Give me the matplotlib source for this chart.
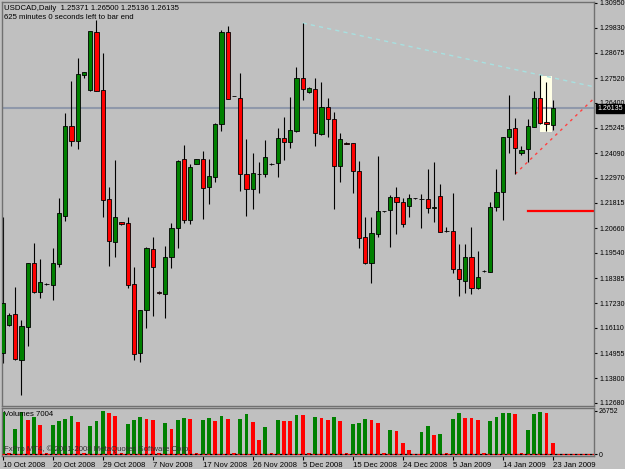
import matplotlib
matplotlib.use('Agg')
import matplotlib.pyplot as plt
import matplotlib.transforms as mtrans
from matplotlib.patches import Rectangle

# ---------------- data ----------------
opens = [1.14964, 1.16243, 1.16745, 1.14644, 1.16151, 1.19075, 1.17750, 1.18115, 1.18070, 1.19029,
         1.21221, 1.25332, 1.24647, 1.27661, 1.26976, 1.29625, 1.26976, 1.21998, 1.20034, 1.20947,
         1.20902, 1.18115, 1.14964, 1.16928, 1.19714, 1.17750, 1.17659, 1.19349, 1.20673, 1.23825,
         1.21039, 1.23596, 1.23825, 1.22546, 1.23003, 1.25423, 1.29625, 1.26702, 1.26611, 1.23140,
         1.22454, 1.23140, 1.23140, 1.23596, 1.23642, 1.24784, 1.24601, 1.25104, 1.27524, 1.26885,
         1.27022, 1.24967, 1.26200, 1.25652, 1.23505, 1.24556, 1.24556, 1.23277, 1.20262, 1.19075,
         1.20399, 1.21450, 1.21495, 1.22089, 1.21861, 1.21678, 1.22043, 1.21998, 1.21998, 1.21587,
         1.22135, 1.20536, 1.20536, 1.18800, 1.18252, 1.19349, 1.17933, 1.18709, 1.18663, 1.21632,
         1.22317, 1.24830, 1.25241, 1.24099, 1.24281, 1.25286, 1.26611, 1.25515, 1.25371]
highs = [1.21176, 1.16791, 1.17978, 1.16471, 1.19075, 1.19988, 1.19257, 1.18161, 1.19760, 1.22043,
         1.25926, 1.27387, 1.28438, 1.27798, 1.29671, 1.30174, 1.28666, 1.22546, 1.23779, 1.20947,
         1.21176, 1.18892, 1.16928, 1.19805, 1.20262, 1.17796, 1.19851, 1.20902, 1.23779, 1.24464,
         1.23596, 1.23825, 1.24190, 1.23825, 1.25469, 1.29717, 1.29899, 1.26702, 1.27753, 1.24738,
         1.24099, 1.23688, 1.24693, 1.23642, 1.25241, 1.25743, 1.26657, 1.28027, 1.30037, 1.27113,
         1.27524, 1.27342, 1.26611, 1.25971, 1.25012, 1.24601, 1.24556, 1.23733, 1.21176, 1.21176,
         1.23962, 1.21450, 1.22180, 1.22546, 1.22043, 1.22226, 1.22043, 1.22226, 1.23368, 1.23688,
         1.22683, 1.20719, 1.22272, 1.19942, 1.19942, 1.20719, 1.19623, 1.18755, 1.21861, 1.23368,
         1.24830, 1.26748, 1.25697, 1.24418, 1.25652, 1.26931, 1.27661, 1.27342, 1.26500]
lows = [1.14507, 1.16197, 1.14644, 1.13045, 1.15283, 1.17704, 1.17476, 1.18070, 1.17385, 1.18892,
        1.20993, 1.24418, 1.24281, 1.27524, 1.26931, 1.26931, 1.21176, 1.18937, 1.19349, 1.20810,
        1.17933, 1.14644, 1.14553, 1.16106, 1.16654, 1.17659, 1.16562, 1.18846, 1.19760, 1.20902,
        1.20856, 1.23596, 1.21084, 1.21769, 1.22774, 1.25104, 1.26565, 1.26702, 1.22363, 1.21221,
        1.21541, 1.22272, 1.23003, 1.23551, 1.23003, 1.23779, 1.24327, 1.25058, 1.26520, 1.26839,
        1.24418, 1.24921, 1.24830, 1.21541, 1.22774, 1.24510, 1.22272, 1.19760, 1.19029, 1.18161,
        1.20262, 1.21404, 1.19805, 1.20399, 1.20719, 1.21176, 1.21998, 1.20673, 1.21358, 1.20947,
        1.20490, 1.20490, 1.18618, 1.17567, 1.17704, 1.17659, 1.17887, 1.18663, 1.18663, 1.21450,
        1.21039, 1.24099, 1.23140, 1.24007, 1.23688, 1.25286, 1.25423, 1.25104, 1.25136]
closes = [1.17248, 1.16699, 1.14690, 1.16197, 1.19075, 1.17750, 1.18207, 1.18115, 1.19075, 1.21358,
          1.25332, 1.24647, 1.27707, 1.27798, 1.29671, 1.26931, 1.21952, 1.20079, 1.21176, 1.20856,
          1.18070, 1.14918, 1.16928, 1.19760, 1.18892, 1.17704, 1.19349, 1.20673, 1.23733, 1.21039,
          1.23459, 1.23825, 1.22500, 1.23048, 1.25423, 1.29625, 1.26565, 1.26702, 1.23140, 1.22454,
          1.23185, 1.23120, 1.23916, 1.23596, 1.24784, 1.24601, 1.25149, 1.27524, 1.27022, 1.27068,
          1.25012, 1.26200, 1.25652, 1.23505, 1.24738, 1.24510, 1.23277, 1.20216, 1.19075, 1.20445,
          1.21450, 1.21450, 1.22089, 1.21861, 1.20856, 1.22043, 1.22043, 1.21990, 1.21587, 1.21632,
          1.20490, 1.20536, 1.18800, 1.18344, 1.19349, 1.17933, 1.18435, 1.18709, 1.21632, 1.22317,
          1.24830, 1.25195, 1.24327, 1.24236, 1.25332, 1.26611, 1.25469, 1.25423, 1.26135]
volumes = [25935, 400, 15316, 26343, 20830, 22872, 17766, 350, 17766, 20216,
           21850, 23483, 19808, 450, 17153, 20216, 26752, 25322, 23892, 420,
           18787, 20830, 23280, 21850, 21238, 380, 19400, 15316, 20830, 22463,
           21442, 410, 20830, 22463, 20216, 23892, 21850, 390, 21850, 24913,
           19808, 8577, 16745, 360, 20830, 20420, 20216, 24505, 24096, 440,
           22871, 22258, 20830, 22871, 20216, 400, 18787, 19195, 21850, 20830,
           19195, 350, 14703, 14500, 7147, 2450, 300, 13681, 17153, 11640,
           12660, 420, 21850, 25322, 22463, 22300, 20830, 380, 20420, 22871,
           25322, 25400, 24913, 400, 15111, 24913, 25935, 25525, 7004]

date_tick_bars = [0, 8, 16, 24, 32, 40, 48, 56, 64, 72, 80, 88]
date_labels = ["10 Oct 2008", "20 Oct 2008", "29 Oct 2008", "7 Nov 2008", "17 Nov 2008",
               "26 Nov 2008", "5 Dec 2008", "15 Dec 2008", "24 Dec 2008", "5 Jan 2009",
               "14 Jan 2009", "23 Jan 2009"]
price_ticks = [1.30950, 1.29830, 1.28675, 1.27520, 1.26400, 1.25245, 1.24090, 1.22970, 1.21815,
               1.20660, 1.19540, 1.18385, 1.17230, 1.16110, 1.14955, 1.13800, 1.12680]
price_labels = ["%.5f" % p for p in price_ticks]

symbol = "USDCAD,Daily"
bid = 1.26135
level_line = 1.21450
vol_max = 26752

# ---------------- figure ----------------
BG = '#c0c0c0'
GREEN = '#008000'
RED = '#ff0000'
FONT = 'Liberation Sans'
FS = 5.6
FSY = 5.0

plt.rcParams['font.family'] = [FONT, 'DejaVu Sans']

fig = plt.figure(figsize=(6.25, 4.69), dpi=100, facecolor=BG)
W, H = 625, 469
ax = fig.add_axes([2 / W, (H - 406) / H, 592 / W, 404 / H], facecolor=BG)
axv = fig.add_axes([2 / W, (H - 456) / H, 592 / W, 48 / H], facecolor=BG)

n = len(opens)
xs = list(range(n))
xmin, xmax = -0.112, 94.61

# highlight box around last bars
ax.add_patch(Rectangle((85.9, 1.2508), 2.0, 0.0253, facecolor='#ffffe6', edgecolor='none', zorder=0.5))

# bid line
ax.axhline(bid, color='#8f98aa', lw=1.5, zorder=1)

# candles
for i in xs:
    o, h, l, c = opens[i], highs[i], lows[i], closes[i]
    ax.vlines(i, l, h, color='black', lw=0.8, zorder=2)
    if c > o:
        col = GREEN
    elif c < o:
        col = RED
    else:
        col = 'black'
    bot = min(o, c)
    hgt = max(abs(c - o), 0.00012)
    ax.bar(i, hgt, bottom=bot, width=0.66, color=col, edgecolor='black', linewidth=0.6, zorder=3)

# trend lines
s1 = (highs[86] - highs[48]) / (86 - 48)
ax.plot([48, xmax], [highs[48], highs[48] + s1 * (xmax - 48)], color='#a8e0e0', lw=1.0,
        ls=(0, (3, 3)), zorder=1.5)
s2 = (lows[84] - lows[82]) / (84 - 82)
ax.plot([82, xmax], [lows[82], lows[82] + s2 * (xmax - 82)], color='#ff4040', lw=1.0,
        ls=(0, (2, 3)), zorder=1.5)
ax.plot([84, xmax], [level_line, level_line], color='#ff0000', lw=1.6, zorder=1.5)

ax.set_xlim(xmin, xmax)
ax.set_ylim(1.31087 - 0.00045675 * 406, 1.31087 - 0.00045675 * 2)
ax.yaxis.tick_right()
ax.set_yticks(price_ticks)
ax.set_yticklabels(price_labels)
ax.tick_params(axis='y', direction='out', length=2.5, width=0.8, colors='black', labelsize=FSY, pad=1.2)
ax.set_xticks([])
for sp in ax.spines.values():
    sp.set_color('#707070')
    sp.set_linewidth(1.0)

# current price label
tr = mtrans.blended_transform_factory(ax.transAxes, ax.transData)
ax.text(1.0055, bid, "%.5f" % bid, transform=tr, fontsize=FSY, color='white',
        va='center', ha='left', zorder=10, clip_on=False,
        bbox=dict(boxstyle='square,pad=0.12', facecolor='black', edgecolor='black'))

# header texts
fig.text(4 / W, 1 - 8 / H, "%s  %.5f %.5f %.5f %.5f" % (symbol, opens[-1], highs[-1], lows[-1], closes[-1]),
         fontsize=FS, color='black', va='center', ha='left')
fig.text(4 / W, 1 - 17.5 / H, "625 minutes 0 seconds left to bar end",
         fontsize=FS, color='black', va='center', ha='left')

# ---------------- volume panel ----------------
vcols = []
for i, v in enumerate(volumes):
    if i == 0 or v > volumes[i - 1]:
        vcols.append(GREEN)
    else:
        vcols.append(RED)
axv.bar(xs, volumes, width=0.58, color=vcols, edgecolor='none', zorder=2)
axv.axhline(0, color='#ff0000', lw=0.9, ls=(0, (2, 2)), zorder=3)
axv.axhline(0, color='black', lw=0.9, ls=(2, (2, 2)), zorder=3)
axv.set_xlim(xmin, xmax)
axv.set_ylim(-vol_max * 2 / 44, vol_max * 47 / 44)
axv.yaxis.tick_right()
axv.set_yticks([0, vol_max])
axv.set_yticklabels(['0', str(vol_max)])
axv.tick_params(axis='y', direction='out', length=2, width=0.8, labelsize=FSY, pad=1.2)
axv.set_xticks(date_tick_bars)
axv.set_xticklabels(date_labels)
axv.tick_params(axis='x', direction='out', length=3, width=0.8, labelsize=FS, pad=1.5)
for lab in axv.get_xticklabels():
    lab.set_horizontalalignment('left')
for sp in axv.spines.values():
    sp.set_color('#707070')
    sp.set_linewidth(1.0)

axv.text(0.004, 0.93, "Volumes %d" % volumes[-1], transform=axv.transAxes, fontsize=FS,
         color='black', va='top', ha='left', zorder=5)
axv.text(0.004, 0.06, "FxPro MT4, \u00a9 2001-2008 MetaQuotes Software Corp.", transform=axv.transAxes,
         fontsize=FS, color='#303030', va='bottom', ha='left', zorder=5)

fig.savefig('out.png', dpi=100, facecolor=BG)
